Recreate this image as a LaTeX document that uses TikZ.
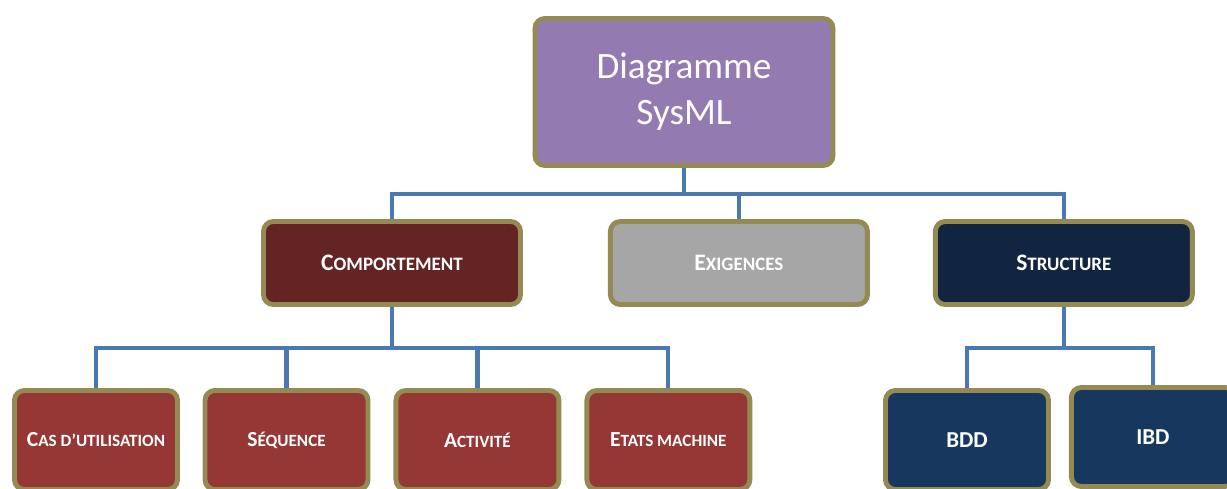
\documentclass[tikz,border=0pt]{standalone}
\usepackage{fontspec}
\setmainfont{Carlito}
\usetikzlibrary{positioning, backgrounds}
\definecolor{sysviolet}{RGB}{147,122,176}
\definecolor{sysolive}{RGB}{148,138,84}
\definecolor{syslien}{RGB}{74,120,178}
\definecolor{syscomp}{RGB}{99,36,35}
\definecolor{sysexig}{RGB}{166,166,166}
\definecolor{sysstruct}{RGB}{18,37,64}
\definecolor{sysrouge}{RGB}{149,55,53}
\definecolor{sysbleu}{RGB}{23,55,94}
% petites capitales faites a la main
\newcommand{\capfam}[2]{{\fontsize{16.8}{19}\selectfont #1}{\fontsize{13.5}{16}\selectfont #2}}
\newcommand{\capfeuille}[2]{{\fontsize{15.3}{18}\selectfont #1}{\fontsize{12.2}{15}\selectfont #2}}

\begin{document}
\begin{tikzpicture}[
  boite/.style={rectangle, rounded corners=7pt, draw=sysolive, line width=3.5pt, text=white, align=center},
  racine/.style={boite, fill=sysviolet, minimum width=7.45cm, minimum height=3.675cm, font=\fontsize{26.5}{32.6}\selectfont},
  famille/.style={boite, minimum width=6.425cm, minimum height=2.075cm, font=\bfseries},
  feuille/.style={boite, minimum width=4.075cm, minimum height=2.475cm, font=\bfseries},
  lien/.style={draw=syslien, line width=3pt}
]
\useasboundingbox (0,0) rectangle (30.675,-12.2);
\clip (0,0) rectangle (30.675,-12.2);
\node[racine] (sysml) at (17.1,-2.3) {Diagramme\\SysML};
% Familles
\node[famille, fill=syscomp] (comp) at (9.8,-6.575) {\capfam{C}{OMPORTEMENT}};
\node[famille, fill=sysexig, right=2.125cm of comp] (exig) {\capfam{E}{XIGENCES}};
\node[famille, fill=sysstruct, right=1.575cm of exig] (struct) {\capfam{S}{TRUCTURE}};
% Comportement
\node[feuille, fill=sysrouge] (cas) at (2.4,-11.0) {\capfeuille{C}{AS D’UTILISATION}};
\node[feuille, fill=sysrouge, right=0.565cm of cas] (sequence) {\capfeuille{S}{ÉQUENCE}};
\node[feuille, fill=sysrouge, right=0.575cm of sequence] (activite) {\capfeuille{A}{CTIVITÉ}};
\node[feuille, fill=sysrouge, right=0.575cm of activite] (etats) {\capfeuille{E}{TATS MACHINE}};
% Structure
\node[feuille, fill=sysbleu, font=\bfseries\fontsize{16.2}{19}\selectfont] (bdd) at (24.175,-11.0) {BDD};
\node[feuille, fill=sysbleu, font=\bfseries\fontsize{16.2}{19}\selectfont, right=0.45cm of bdd, yshift=0.075cm] (ibd) {IBD};
% Liens
\begin{scope}[on background layer]
\foreach \f in {comp, exig, struct}
  \draw[lien] (sysml.south) -- ++(0,-0.65) -| (\f.north);
\foreach \f in {cas, sequence, activite, etats}
  \draw[lien] (comp.south) -- ++(0,-1.025) -| (\f.north);
\foreach \f in {bdd, ibd}
  \draw[lien] (struct.south) -- ++(0,-1.025) -| (\f.north);
\end{scope}
\end{tikzpicture}
\end{document}
